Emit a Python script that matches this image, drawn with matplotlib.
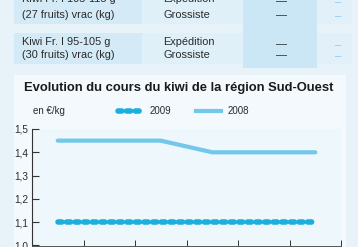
import matplotlib
matplotlib.use("Agg")
import matplotlib.pyplot as plt
from matplotlib.patches import Rectangle
from matplotlib.lines import Line2D

# données (positions = milieu de chaque mois)
mois = [0.5, 1.5, 2.5, 3.5, 4.5, 5.5]
cours_2008 = [1.45, 1.45, 1.45, 1.40, 1.40, 1.40]
cours_2009 = [1.10, 1.10, 1.10, 1.10, 1.10, 1.10]
y_ticks = [1.0, 1.1, 1.2, 1.3, 1.4, 1.5]
y_labels = ["1,0", "1,1", "1,2", "1,3", "1,4", "1,5"]

# tableau au-dessus (coupé en haut)
produits = [["Kiwi Fr. I 105-115 g", "(27 fruits) vrac (kg)"],
            ["Kiwi Fr. I 95-105 g", "(30 fruits) vrac (kg)"]]
stades = ["Expédition", "Grossiste"]

W, H = 358, 247
C_2008 = "#72c7ea"
C_2009 = "#1aafdc"
TXT = "#2b2b2b"
DOTS = (0, (0.7, 0.85))

plt.rcParams['font.family'] = ['Liberation Sans', 'DejaVu Sans']

fig = plt.figure(figsize=(W / 100, H / 100), dpi=100)
fig.patch.set_facecolor("#e8f2f9")


def px(x, y):
    """pixels (haut-gauche) -> coordonnées figure"""
    return x / W, 1 - y / H


def rect(x0, y0, x1, y1, color):
    fig.patches.append(Rectangle((x0 / W, 1 - y1 / H), (x1 - x0) / W, (y1 - y0) / H,
                                 transform=fig.transFigure, facecolor=color,
                                 edgecolor="none", zorder=-5))


# cellules du tableau
rows = [(-12, 24), (33, 64)]
for y0, y1 in rows:
    rect(14, y0, 142, y1, "#d4eaf6")
    rect(142, y0, 243, y1, "#dff0f9")
    rect(317, y0, 352, y1, "#e2f1f9")
rect(243, -5, 317, 68, "#cbe6f4")

FS_TAB = 7.9
row_y = [(-1, 15), (42, 55)]
for (ya, yb), prod in zip(row_y, produits):
    fig.text(*px(22, ya), prod[0], fontsize=FS_TAB, color=TXT, va="center")
    fig.text(*px(22, yb), prod[1], fontsize=FS_TAB, color=TXT, va="center")
    fig.text(*px(163, ya), stades[0], fontsize=FS_TAB, color=TXT, va="center")
    fig.text(*px(163, yb), stades[1], fontsize=FS_TAB, color=TXT, va="center")
    for yy in (ya + 2, yb):
        fig.text(*px(281, yy), "—", fontsize=FS_TAB, color=TXT, va="center", ha="center")
        fig.text(*px(338, yy + 1), "–", fontsize=FS_TAB, color="#8ccbe6", va="center", ha="center")

# panneau du graphique
rect(14, 75, 346, 250, "#f4f9fd")

fig.text(*px(178.5, 87.5), "Evolution du cours du kiwi de la région Sud-Ouest",
         fontsize=9.4, fontweight="bold", color="#1a1a1a", ha="center", va="center")
fig.text(*px(33, 111.5), "en €/kg", fontsize=7, color=TXT, va="center")

ax = fig.add_axes([32 / W, 1.5 / H, 309 / W, 116.5 / H])
ax.set_facecolor("#edf7fc")
ax.plot(mois, cours_2008, color=C_2008, lw=3.0, solid_capstyle="round",
        solid_joinstyle="round", label="2008", zorder=3)
ax.plot(mois, cours_2009, color=C_2009, lw=4.0, linestyle=DOTS,
        dash_capstyle="round", label="2009", zorder=3)

ax.set_xlim(0, 6)
ax.set_ylim(1.0, 1.5)
ax.set_xticks(range(7))
ax.set_xticklabels([])
ax.set_yticks(y_ticks)
ax.set_yticklabels(y_labels)
ax.tick_params(axis="x", direction="in", length=4, width=0.7, color="#333333")
ax.tick_params(axis="y", direction="in", length=5, width=0.8, color="#333333",
               labelsize=7.2, labelcolor=TXT, pad=3)
for s in ("top", "right"):
    ax.spines[s].set_visible(False)
ax.spines["left"].set_color("#333333")
ax.spines["left"].set_linewidth(0.8)
ax.spines["bottom"].set_color("#555555")
ax.spines["bottom"].set_linewidth(0.7)

handles = [Line2D([], [], color=C_2009, lw=4.0, linestyle=DOTS,
                  dash_capstyle="round"),
           Line2D([], [], color=C_2008, lw=3.0)]
fig.legend(handles, ["2009", "2008"], loc="center left",
           bbox_to_anchor=px(118, 111.5), ncol=2, frameon=False, fontsize=7,
           handlelength=2.6, handletextpad=0.6, columnspacing=2.6,
           borderaxespad=0, borderpad=0, labelcolor=TXT)

fig.savefig("out.png", dpi=100, facecolor=fig.get_facecolor())
